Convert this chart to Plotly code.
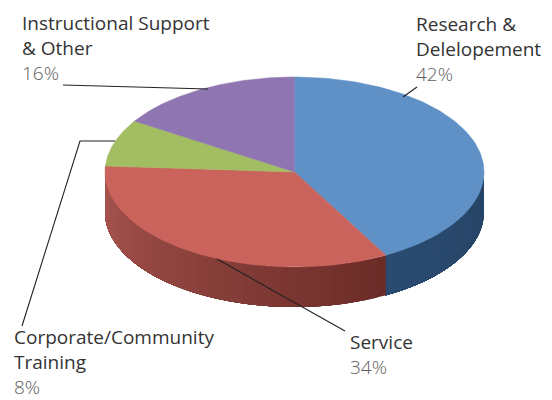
import numpy as np
import plotly.graph_objects as go

categories = ["Research & Delelopement", "Service", "Corporate/Community Training", "Instructional Support & Other"]
values = [42, 34, 8, 16]
top_colors = ["#5F91C7", "#CA635B", "#A3BD62", "#8F75B1"]
wall_light = ["#2A4B70", "#AB5650", "#7F9448", "#6C5687"]
wall_dark = ["#264466", "#6B2C28", "#7F9448", "#6C5687"]

label_lines = [["Research &", "Delelopement"], ["Service"], ["Corporate/Community", "Training"], ["Instructional Support", "& Other"]]
label_x = [414, 348, 12, 20]
label_y = [24, 342, 337, 23]
line_gap = 25

CX, CY, RX, RY, DEPTH = 294.5, 172, 189.5, 95, 40


def rim(t):
    return CX + RX * np.sin(t), CY - RY * np.cos(t)


def mix(a, b, f):
    ca = [int(a[i:i + 2], 16) for i in (1, 3, 5)]
    cb = [int(b[i:i + 2], 16) for i in (1, 3, 5)]
    return "rgb(%d,%d,%d)" % tuple(round(x + (y - x) * f) for x, y in zip(ca, cb))


fig = go.Figure()
edges = np.cumsum([0] + values) / sum(values) * 2 * np.pi

# side walls (visible half of the disc only); each strip runs to the wedge end and the next covers it
for i in range(len(values)):
    a, b = max(edges[i], np.pi / 2), min(edges[i + 1], 3 * np.pi / 2)
    if b <= a:
        continue
    steps = np.linspace(a, b, 41)
    for k in range(40):
        f = 1 - (steps[k] - a) / (b - a)
        col = mix(wall_light[i], wall_dark[i], f)
        t = np.linspace(steps[k], b, 60)
        x, y = rim(t)
        fig.add_trace(go.Scatter(
            x=np.r_[x, x[::-1]], y=np.r_[y, y[::-1] + DEPTH],
            mode="none", fill="toself", fillcolor=col, hoverinfo="skip", showlegend=False))

# top faces
for i in range(len(values)):
    t = np.linspace(edges[i], edges[i + 1], 120)
    x, y = rim(t)
    fig.add_trace(go.Scatter(
        x=np.r_[CX, x, CX], y=np.r_[CY, y, CY],
        mode="lines", fill="toself", fillcolor=top_colors[i],
        line=dict(color=top_colors[i], width=0.5),
        name=categories[i], showlegend=False, text=f"{categories[i]}: {values[i]}%", hoverinfo="text"))

# labels
FONT = "Open Sans"
for i in range(len(values)):
    y = label_y[i]
    for ln in label_lines[i]:
        fig.add_annotation(x=label_x[i], y=y, text=ln, showarrow=False, xanchor="left", yanchor="middle",
                           font=dict(family=FONT, size=19, color="#333333"))
        y += line_gap
    fig.add_annotation(x=label_x[i], y=y, text=f"{values[i]}%", showarrow=False,
                       xanchor="left", yanchor="middle",
                       font=dict(family=FONT, size=19, color="#5E5E5E", weight=300))

# leader lines
leaders = [
    [(403, 97), (417, 87)],
    [(217, 259), (345, 331)],
    [(115, 141), (80, 141), (22, 326)],
    [(208, 89), (63, 85)],
]
for pts in leaders:
    px, py = zip(*pts)
    fig.add_trace(go.Scatter(x=px, y=py, mode="lines", line=dict(color="#222222", width=1.1),
                             hoverinfo="skip", showlegend=False))

fig.update_layout(
    width=552, height=400, margin=dict(l=0, r=0, t=0, b=0),
    paper_bgcolor="white", plot_bgcolor="white",
    xaxis=dict(range=[0, 552], visible=False, fixedrange=True),
    yaxis=dict(range=[400, 0], visible=False, fixedrange=True),
)
fig.write_html("out.html", post_script="document.body.style.margin='0';", config={"displayModeBar": False})
